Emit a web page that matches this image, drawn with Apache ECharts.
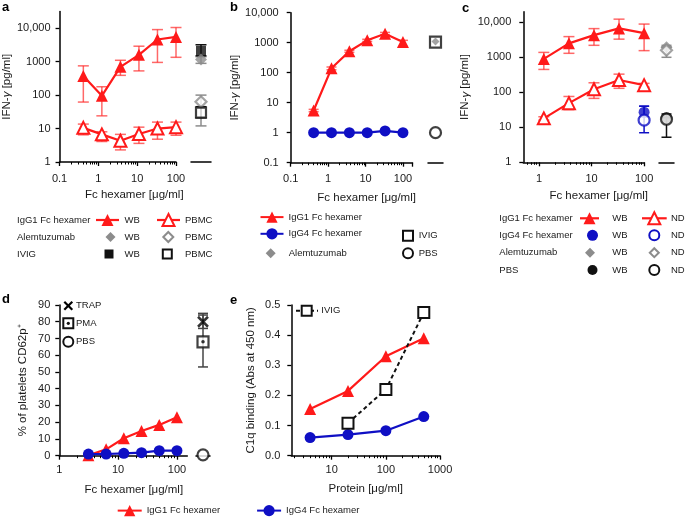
<!DOCTYPE html>
<html><head><meta charset="utf-8">
<script src="https://cdn.jsdelivr.net/npm/echarts@6/dist/echarts.min.js"></script>
<style>html,body{margin:0;padding:0;background:#fff}#c{width:685px;height:518px}</style>
</head><body><div id="c"></div>
<script>
// ---------------- DATA ----------------
// Panel a
const xA = [0.41, 1.23, 3.7, 11.1, 33.3, 100];
const aWB = [370, 95, 700, 1600, 4600, 5500];
const aWBlo = [62, 24, 390, 530, 950, 1350];
const aWBhi = [750, 178, 1100, 2900, 9100, 10500];
const aPBMC = [10.5, 6.7, 4.3, 6.9, 10, 11];
const aPBMClo = [6.5, 4.1, 2.3, 3.6, 4.8, 6.3];
const aPBMChi = [13.6, 8, 6.7, 11, 15.6, 15.6];
const aCtrlNames = ['Alemtuzumab WB', 'IVIG WB', 'Alemtuzumab PBMC', 'IVIG PBMC'];
const aCtrl = [1170, 2100, 63, 30];
const aCtrlLo = [890, 1500, 12, 21];
const aCtrlHi = [1400, 3200, 100, 45];
// Panel b
const xB = [0.41, 1.23, 3.7, 11.1, 33.3, 100];
const bIgG1 = [5.5, 140, 520, 1200, 2000, 1050];
const bIgG1lo = [5, 125, 480, 1100, 1800, 750];
const bIgG1hi = [6, 155, 560, 1300, 2200, 1200];
const bIgG4 = [1, 1, 1, 1, 1.15, 1];
const bCtrlNames = ['IVIG', 'Alemtuzumab', 'PBS'];
const bCtrl = [1050, 1100, 1];
// Panel c
const xC = [1.23, 3.7, 11.1, 33.3, 100];
const cWB = [900, 2500, 4300, 6700, 4900];
const cWBlo = [450, 1300, 2200, 3300, 1550];
const cWBhi = [1380, 3900, 6600, 12300, 8900];
const cND = [18, 49, 122, 225, 160];
const cNDlo = [16, 32, 67, 130, 140];
const cNDhi = [20, 76, 187, 330, 180];
const cIgG4X = 100;
const cIgG4 = [27, 16];          // WB, ND
const cIgG4lo = [20, 7];
const cIgG4hi = [40, 40];
const cCtrlNames = ['Alemtuzumab WB', 'Alemtuzumab ND', 'PBS WB', 'PBS ND'];
const cCtrl = [1950, 1600, 19, 17];
const cCtrlLo = [1950, 1000, 19, 5.2];
const cCtrlHi = [1950, 2200, 19, 24];
// Panel d
const xD = [3.125, 6.25, 12.5, 25, 50, 100];
const dIgG1 = [0.3, 3.8, 10.4, 14.8, 18.4, 23];
const dIgG4 = [1, 1, 1.4, 1.8, 3, 3];
const dCtrlNames = ['TRAP', 'PMA', 'PBS'];
const dCtrl = [80, 68, 0.5];
const dCtrlLo = [76, 53, 0.5];
const dCtrlHi = [84, 85, 0.5];
// Panel e
const xE = [4, 20, 100, 500];
const eIgG1 = [0.155, 0.215, 0.33, 0.39];
const eIgG4 = [0.06, 0.07, 0.083, 0.13];
const xEivig = [20, 100, 500];
const eIVIG = [0.108, 0.22, 0.475];
// Tick labels
const ticksA_x = [0.1, 1, 10, 100];
const ticksA_y = [1, 10, 100, 1000, 10000];
const ticksB_x = [0.1, 1, 10, 100];
const ticksB_y = [0.1, 1, 10, 100, 1000, 10000];
const ticksC_x = [1, 10, 100];
const ticksC_y = [1, 10, 100, 1000, 10000];
const ticksD_x = [1, 10, 100];
const ticksE_x = [10, 100, 1000];

// ---------------- STYLE / HELPERS ----------------
const FONT = '"Liberation Sans", Arial, Helvetica, sans-serif';
const RED = '#ff1a1a', BLUE = '#0f0fc4', GREY = '#8c8c8c', BLK = '#111';
const ERR_RED = 'rgba(255,40,40,0.7)';

function fmt(v) {
  const r = Math.abs(v) < 1 ? Math.round(v * 10) / 10 : Math.round(v);
  if (r === 10000) return '10,000';
  return String(r);
}
function minorsOf(decades, lo, hi) {
  const out = [];
  decades.forEach(d => { for (let k = 2; k <= 9; k++) { const v = +(k * d).toPrecision(6); if (v > lo && v < hi) out.push(v); } });
  return out;
}
const axLine = { show: true, onZero: false, lineStyle: { color: '#000', width: 1.5 } };
const tickStyle = { color: '#000', width: 1.3 };
const labStyle = (margin) => ({ fontSize: 11, color: '#1a1a1a', fontFamily: FONT, margin });

function logX(grid, min, max, majors, minors, name, gap, pad, margin, tickExtra) {
  return [
    { type: 'log', logBase: 10, gridIndex: grid, min, max, position: 'bottom',
      axisLine: axLine,
      axisTick: { show: true, length: 4, lineStyle: tickStyle, customValues: majors.concat(tickExtra || []) },
      axisLabel: Object.assign(labStyle(margin), { customValues: majors, formatter: fmt }),
      splitLine: { show: false }, minorTick: { show: false },
      name, nameLocation: 'middle', nameGap: gap,
      nameTextStyle: { fontSize: 11.5, color: '#1a1a1a', fontFamily: FONT, padding: [0, 0, 0, pad] } },
    { type: 'log', logBase: 10, gridIndex: grid, min, max, position: 'bottom',
      axisLine: { show: false, onZero: false },
      axisTick: { show: true, length: 2.5, lineStyle: { color: '#000', width: 1 }, customValues: minors },
      axisLabel: { show: false }, splitLine: { show: false } }
  ];
}
function ctrlX(grid) {
  return { type: 'category', gridIndex: grid, data: ['ctrl'], boundaryGap: true, position: 'bottom',
    axisLine: axLine, axisTick: { show: false }, axisLabel: { show: false }, splitLine: { show: false } };
}
const yNameIFN = 'IFN-{i|γ} [pg/ml]';
const richI = { i: { fontStyle: 'italic', fontSize: 11.5, fontFamily: FONT, color: '#1a1a1a' } };
function logY(grid, min, max, majors, name, gap, margin) {
  return { type: 'log', logBase: 10, gridIndex: grid, min, max, position: 'left',
    axisLine: axLine,
    axisTick: { show: true, length: 4, lineStyle: tickStyle, customValues: majors },
    axisLabel: Object.assign(labStyle(margin), { customValues: majors, formatter: fmt }),
    splitLine: { show: false }, minorTick: { show: false },
    name, nameLocation: 'middle', nameGap: gap,
    nameTextStyle: { fontSize: 11.5, color: '#1a1a1a', fontFamily: FONT, rich: richI } };
}
function hiddenY(grid, type, min, max) {
  return { type, gridIndex: grid, min, max, show: false, splitLine: { show: false } };
}
function errSeries(xi, yi, xs, lo, hi, color, cap, name) {
  return { type: 'custom', name: name || 'err', xAxisIndex: xi, yAxisIndex: yi, z: 1, silent: true,
    data: xs.map((x, i) => [x, lo[i], hi[i]]),
    encode: { x: 0, y: [1, 2] },
    renderItem(params, api) {
      const x = api.value(0), l = api.value(1), h = api.value(2);
      const a = api.coord([x, l]), b = api.coord([x, h]);
      const st = { stroke: color, lineWidth: 1.5 };
      return { type: 'group', children: [
        { type: 'line', shape: { x1: a[0], y1: a[1], x2: b[0], y2: b[1] }, style: st },
        { type: 'line', shape: { x1: a[0] - cap, y1: a[1], x2: a[0] + cap, y2: a[1] }, style: st },
        { type: 'line', shape: { x1: b[0] - cap, y1: b[1], x2: b[0] + cap, y2: b[1] }, style: st }
      ] };
    } };
}
function lineS(name, xi, yi, xs, ys, color, symbol, size, open, extra) {
  return Object.assign({ type: 'line', name, xAxisIndex: xi, yAxisIndex: yi, z: 3,
    data: xs.map((x, i) => [x, ys[i]]), symbol, symbolSize: size, showSymbol: true,
    lineStyle: { color, width: 2.2 },
    itemStyle: open ? { color: '#fff', borderColor: color, borderWidth: 2 } : { color, borderColor: color, borderWidth: 0 },
    emphasis: { disabled: true } }, extra || {});
}
function pt(name, xi, yi, x, y, symbol, size, color, open, z) {
  return { type: 'scatter', name, xAxisIndex: xi, yAxisIndex: yi, z: z || 4, data: [[x, y]], symbol, symbolSize: size,
    itemStyle: open ? { color: '#fff', borderColor: color, borderWidth: 2.2 } : { color, borderWidth: 0 },
    emphasis: { disabled: true } };
}

// ---------------- AXES ----------------
const grids = [
  { left: 59, top: 11.5, width: 117, height: 150.5 },     // 0 a
  { left: 191, top: 11.5, width: 20, height: 150.5 },     // 1 a ctrl
  { left: 290.7, top: 12.7, width: 121.8, height: 150 },  // 2 b
  { left: 428, top: 12.7, width: 15, height: 150 },       // 3 b ctrl
  { left: 523.3, top: 11.8, width: 120.8, height: 150.5 },// 4 c
  { left: 659, top: 11.8, width: 15, height: 150.5 },     // 5 c ctrl
  { left: 59.3, top: 305, width: 128, height: 150.7 },    // 6 d
  { left: 196, top: 305, width: 14, height: 150.7 },      // 7 d ctrl
  { left: 291.3, top: 305, width: 148.8, height: 150.7 }  // 8 e
];
const XNAME = 'Fc hexamer [μg/ml]';
const xAxes = [].concat(
  logX(0, 0.1, 100, ticksA_x, minorsOf([0.1, 1, 10], 0.1, 100), XNAME, 27, 33, 11),  // 0,1
  [ctrlX(1)],                                                                          // 2
  logX(2, 0.1, 180, ticksB_x, minorsOf([0.1, 1, 10, 100], 0.1, 180), XNAME, 29, 30, 11, [179.9]), // 3,4
  [ctrlX(3)],                                                                          // 5
  logX(4, 0.5, 100, ticksC_x, minorsOf([0.1, 1, 10], 0.5, 100), XNAME, 28, 30, 11),   // 6,7
  [ctrlX(5)],                                                                          // 8
  logX(6, 1, 150, ticksD_x, minorsOf([1, 10], 1, 150), XNAME, 28, 21, 9),             // 9,10
  [ctrlX(7)],                                                                          // 11
  logX(8, 1.8, 1000, ticksE_x, minorsOf([1, 10, 100], 1.8, 1000), 'Protein [μg/ml]', 27, 0, 9) // 12,13
);
const yAxes = [
  logY(0, 1, 31623, ticksA_y, yNameIFN, 44, 9),        // 0
  hiddenY(1, 'log', 1, 31623),                         // 1
  logY(2, 0.1, 10000, ticksB_y, yNameIFN, 48, 12),     // 2
  hiddenY(3, 'log', 0.1, 10000),                       // 3
  logY(4, 1, 19953, ticksC_y, yNameIFN, 52, 12),       // 4
  hiddenY(5, 'log', 1, 19953),                         // 5
  { type: 'value', gridIndex: 6, min: 0, max: 90, interval: 10, position: 'left',
    axisLine: axLine, axisTick: { show: true, length: 4, lineStyle: tickStyle },
    axisLabel: labStyle(9), splitLine: { show: false },
    name: '% of platelets CD62p⁺', nameLocation: 'middle', nameGap: 30,
    nameTextStyle: { fontSize: 11.5, color: '#1a1a1a', fontFamily: FONT } },   // 6
  hiddenY(7, 'value', 0, 90),                          // 7
  { type: 'value', gridIndex: 8, min: 0, max: 0.5, interval: 0.1, position: 'left',
    axisLine: axLine, axisTick: { show: true, length: 4, lineStyle: tickStyle },
    axisLabel: Object.assign(labStyle(11), { formatter: v => v.toFixed(1) }), splitLine: { show: false },
    name: 'C1q binding (Abs at 450 nm)', nameLocation: 'middle', nameGap: 34,
    nameTextStyle: { fontSize: 11.5, color: '#1a1a1a', fontFamily: FONT } }    // 8
];

// ---------------- SERIES ----------------
const S = [];
// a
S.push(errSeries(0, 0, xA, aWBlo, aWBhi, ERR_RED, 5.5));
S.push(errSeries(0, 0, xA, aPBMClo, aPBMChi, ERR_RED, 5.5));
S.push(lineS('IgG1 Fc hexamer', 0, 0, xA, aWB, RED, 'triangle', 12, false));
S.push(lineS('IgG1 Fc hexamer PBMC', 0, 0, xA, aPBMC, RED, 'triangle', 12, true));
const aCtrlErrCol = [GREY, BLK, GREY, BLK];
const aCtrlSym = [['diamond', 12, GREY, false], ['rect', 10, BLK, false], ['diamond', 11, GREY, true], ['rect', 10, BLK, true]];
aCtrl.forEach((v, i) => {
  S.push(errSeries(2, 1, [0], [aCtrlLo[i]], [aCtrlHi[i]], aCtrlErrCol[i], 5.5));
  const s = aCtrlSym[i];
  S.push(pt(aCtrlNames[i], 2, 1, 0, v, s[0], s[1], s[2], s[3], i === 0 ? 5 : 4));
});
// b
S.push(errSeries(3, 2, xB, bIgG1lo, bIgG1hi, ERR_RED, 5));
S.push(lineS('IgG1 Fc hexamer', 3, 2, xB, bIgG1, RED, 'triangle', 12, false));
S.push(lineS('IgG4 Fc hexamer', 3, 2, xB, bIgG4, BLUE, 'circle', 11, false));
S.push(pt(bCtrlNames[0], 5, 3, 0, bCtrl[0], 'rect', 11, BLK, true, 4));
S.push(pt(bCtrlNames[1], 5, 3, 0, bCtrl[1], 'diamond', 8, GREY, false, 5));
S.push(pt(bCtrlNames[2], 5, 3, 0, bCtrl[2], 'circle', 11, BLK, true, 4));
// c
S.push(errSeries(6, 4, xC, cWBlo, cWBhi, ERR_RED, 5.5));
S.push(errSeries(6, 4, xC, cNDlo, cNDhi, ERR_RED, 5.5));
S.push(lineS('IgG1 Fc hexamer', 6, 4, xC, cWB, RED, 'triangle', 12, false));
S.push(lineS('IgG1 Fc hexamer ND', 6, 4, xC, cND, RED, 'triangle', 12, true));
S.push(errSeries(6, 4, [cIgG4X, cIgG4X], cIgG4lo, cIgG4hi, BLUE, 5));
S.push(pt('IgG4 Fc hexamer WB', 6, 4, cIgG4X, cIgG4[0], 'circle', 11, BLUE, false, 5));
S.push(pt('IgG4 Fc hexamer ND', 6, 4, cIgG4X, cIgG4[1], 'circle', 11, BLUE, true, 5));
const cErrCol = [GREY, GREY, BLK, BLK];
const cSym = [['diamond', 12, GREY, false], ['diamond', 11, GREY, true], ['circle', 11, BLK, false], ['circle', 11, BLK, true]];
cCtrl.forEach((v, i) => {
  S.push(errSeries(8, 5, [0], [cCtrlLo[i]], [cCtrlHi[i]], cErrCol[i], 5));
  const s = cSym[i];
  S.push(pt(cCtrlNames[i], 8, 5, 0, v, s[0], s[1], s[2], s[3], i % 2 ? 5 : 4));
});
// d
S.push(lineS('IgG1 Fc hexamer', 9, 6, xD, dIgG1, RED, 'triangle', 12, false));
S.push(lineS('IgG4 Fc hexamer', 9, 6, xD, dIgG4, BLUE, 'circle', 11, false, { z: 4 }));
S.push(errSeries(11, 7, [0, 0], dCtrlLo.slice(0, 2), dCtrlHi.slice(0, 2), '#444', 5));
S.push({ type: 'scatter', name: dCtrlNames[0], xAxisIndex: 11, yAxisIndex: 7, z: 5, data: [[0, dCtrl[0]]],
  symbol: 'path://M0,0L10,10M10,0L0,10', symbolSize: 10,
  itemStyle: { color: 'none', borderColor: '#000', borderWidth: 2.5 }, emphasis: { disabled: true } });
S.push(pt(dCtrlNames[1], 11, 7, 0, dCtrl[1], 'rect', 11, BLK, true, 5));
S.push({ type: 'scatter', name: 'PMA dot', xAxisIndex: 11, yAxisIndex: 7, z: 6, data: [[0, dCtrl[1]]],
  symbol: 'circle', symbolSize: 3.5, itemStyle: { color: '#000' }, emphasis: { disabled: true } });
S.push(pt(dCtrlNames[2], 11, 7, 0, dCtrl[2], 'circle', 11, BLK, true, 5));
// e
S.push(lineS('IgG1 Fc hexamer', 12, 8, xE, eIgG1, RED, 'triangle', 12, false));
S.push(lineS('IgG4 Fc hexamer', 12, 8, xE, eIgG4, BLUE, 'circle', 11, false));
S.push(lineS('IVIG', 12, 8, xEivig, eIVIG, BLK, 'rect', 11, true,
  { lineStyle: { color: BLK, width: 2, type: [4, 3] } }));

// ---------------- GRAPHIC (panel letters + legend tables) ----------------
const G = [];
function txt(x, y, s, font, fill, align) {
  G.push({ type: 'text', x, y, silent: true,
    style: { text: s, font: font || ('9.5px ' + FONT), fill: fill || '#1a1a1a',
      align: align || 'left', verticalAlign: 'middle', textAlign: align || 'left', textVerticalAlign: 'middle' } });
}
function sty(color, open, lw) { return open ? { fill: '#fff', stroke: color, lineWidth: lw || 2 } : { fill: color }; }
function gLine(x1, x2, y, color, w, dash) { G.push({ type: 'line', silent: true, shape: { x1, y1: y, x2, y2: y }, style: { stroke: color, lineWidth: w || 2.2, lineDash: dash || null } }); }
function gTri(cx, cy, color, open, s) { s = s || 12; G.push({ type: 'polygon', silent: true, shape: { points: [[cx, cy - s / 2], [cx + s / 2, cy + s / 2], [cx - s / 2, cy + s / 2]] }, style: sty(color, open) }); }
function gCirc(cx, cy, color, open, s) { s = s || 11; G.push({ type: 'circle', silent: true, shape: { cx, cy, r: s / 2 }, style: sty(color, open) }); }
function gDiam(cx, cy, color, open, s) { s = s || 11; const h = s / 2; G.push({ type: 'polygon', silent: true, shape: { points: [[cx, cy - h], [cx + h, cy], [cx, cy + h], [cx - h, cy]] }, style: sty(color, open) }); }
function gRect(cx, cy, color, open, s) { s = s || 10; G.push({ type: 'rect', silent: true, shape: { x: cx - s / 2, y: cy - s / 2, width: s, height: s }, style: sty(color, open) }); }

const LBL = 'bold 13px ' + FONT;
txt(2, 7, 'a', LBL, '#000'); txt(230, 7, 'b', LBL, '#000'); txt(462, 8, 'c', LBL, '#000');
txt(2, 299, 'd', LBL, '#000'); txt(230, 300, 'e', LBL, '#000');

// legend a
const aRows = [220, 237, 254];
txt(17, aRows[0], 'IgG1 Fc hexamer'); txt(17, aRows[1], 'Alemtuzumab'); txt(17, aRows[2], 'IVIG');
gLine(96, 119, aRows[0], RED); gTri(107.5, aRows[0], RED, false);
gLine(157, 180, aRows[0], RED); gTri(168.5, aRows[0], RED, true);
gDiam(110.5, aRows[1], GREY, false, 10); gDiam(168.3, aRows[1], GREY, true, 10);
gRect(109, aRows[2], BLK, false, 9); gRect(167.3, aRows[2], BLK, true, 9);
aRows.forEach(y => { txt(124.5, y, 'WB'); txt(185, y, 'PBMC'); });

// legend b (lines via ECharts legend; others graphic)
gDiam(270.7, 253.3, GREY, false, 10); txt(288.7, 253.3, 'Alemtuzumab');
gRect(408, 235.7, BLK, true, 10); txt(418.7, 235.7, 'IVIG');
gCirc(408, 253.3, BLK, true, 10); txt(418.7, 253.3, 'PBS');

// legend c
const cRows = [218.3, 235.3, 252.7, 270];
txt(499.3, cRows[0], 'IgG1 Fc hexamer'); txt(499.3, cRows[1], 'IgG4 Fc hexamer');
txt(499.3, cRows[2], 'Alemtuzumab'); txt(499.3, cRows[3], 'PBS');
gLine(580, 599, cRows[0], RED); gTri(589.5, cRows[0], RED, false);
gLine(642, 666.7, cRows[0], RED); gTri(654.3, cRows[0], RED, true);
gCirc(592.5, cRows[1], BLUE, false, 11); gCirc(654.3, cRows[1], BLUE, true, 10);
gDiam(590, cRows[2], GREY, false, 10); gDiam(654.3, cRows[2], GREY, true, 9);
gCirc(592.5, cRows[3], BLK, false, 10); gCirc(654.3, cRows[3], BLK, true, 10);
cRows.forEach(y => { txt(612.3, y, 'WB'); txt(671, y, 'ND'); });

// legend d (inside plot)
G.push({ type: 'line', silent: true, shape: { x1: 64.3, y1: 301.7, x2: 72.3, y2: 309.7 }, style: { stroke: '#000', lineWidth: 2.2 } });
G.push({ type: 'line', silent: true, shape: { x1: 72.3, y1: 301.7, x2: 64.3, y2: 309.7 }, style: { stroke: '#000', lineWidth: 2.2 } });
txt(76, 305.7, 'TRAP');
gRect(68.3, 323.3, BLK, true, 10); gCirc(68.3, 323.3, BLK, false, 3.2); txt(76, 323.3, 'PMA');
gCirc(68.3, 341.7, BLK, true, 10); txt(76, 341.7, 'PBS');

// legend e
gLine(296, 318, 310.7, BLK, 2, [4, 3]); gRect(306.7, 310.7, BLK, true, 10); txt(321.3, 310.7, 'IVIG');

// ---------------- CHART ----------------
const legendText = { fontSize: 9.5, color: '#1a1a1a', fontFamily: FONT };
const chart = echarts.init(document.getElementById('c'), null, { renderer: 'canvas' });
chart.setOption({
  backgroundColor: '#fff',
  animation: false,
  grid: grids,
  xAxis: xAxes,
  yAxis: yAxes,
  series: S,
  legend: [
    { data: ['IgG1 Fc hexamer', 'IgG4 Fc hexamer'], orient: 'horizontal', left: 116.7, top: 505,
      itemWidth: 24, itemHeight: 14, itemGap: 36, selectedMode: false, textStyle: legendText, padding: 0 },
    { data: ['IgG1 Fc hexamer', 'IgG4 Fc hexamer'], orient: 'vertical', left: 259.5, top: 211.5,
      itemWidth: 23, itemHeight: 14, itemGap: 5.5, selectedMode: false, textStyle: legendText, padding: 0 }
  ],
  graphic: { elements: G }
});
</script>
</body></html>
